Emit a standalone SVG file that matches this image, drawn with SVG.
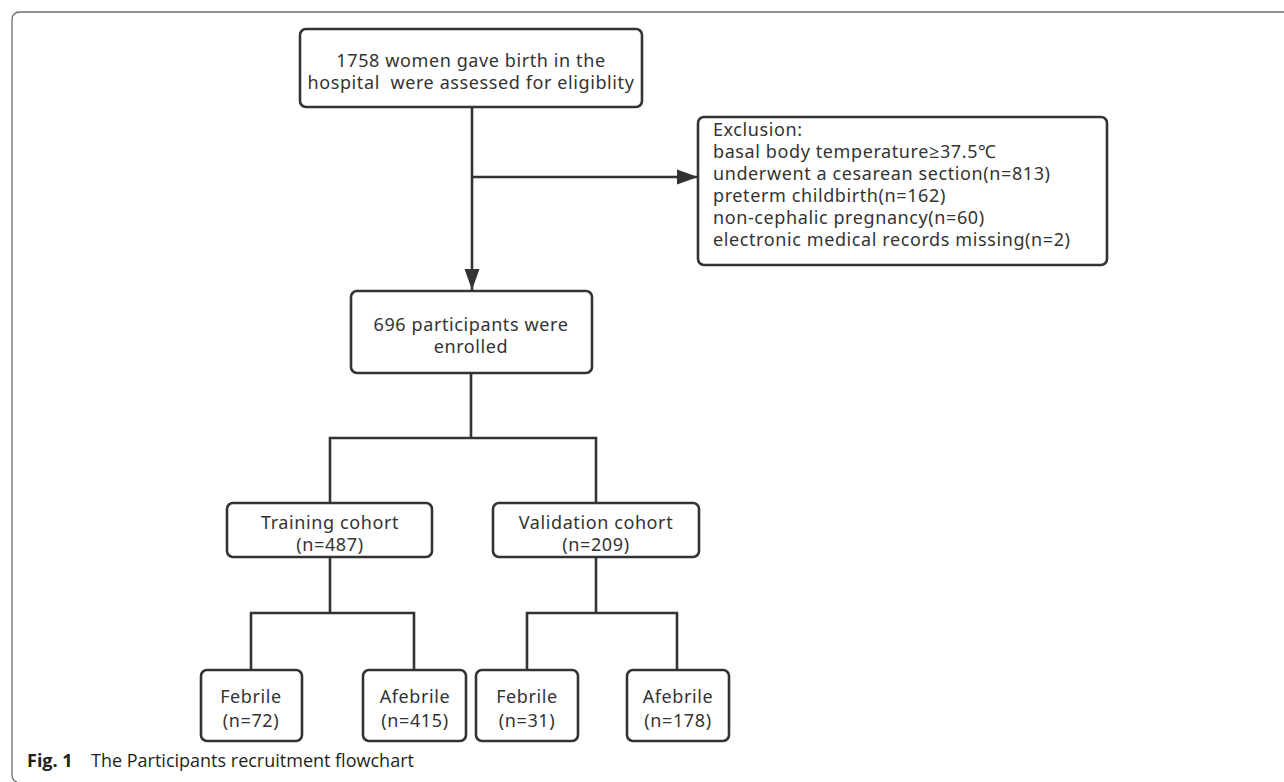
<svg xmlns="http://www.w3.org/2000/svg" width="1284" height="782" viewBox="0 0 1284 782">
<style>
.box{fill:#fff;stroke:#333;stroke-width:2.6}
.ln{fill:none;stroke:#333;stroke-width:2.6}
.t{font-family:"Noto Sans","Open Sans",sans-serif;font-size:18px;letter-spacing:0.6px;fill:#333;text-anchor:middle}
.tl{font-family:"Noto Sans","Open Sans",sans-serif;font-size:18px;letter-spacing:0.6px;fill:#333}
.cap{font-family:"Open Sans","Noto Sans",sans-serif;font-size:18px;fill:#231f20}
</style>
<defs>
<marker id="arrd" markerWidth="21" markerHeight="16" refX="21" refY="8" orient="auto" markerUnits="userSpaceOnUse">
<path d="M0,0.5 L21,8 L0,15.5 Z" fill="#333"/>
</marker>
</defs>
<path d="M1284 12 H20 Q12 12 12 20 V774 Q12 781 17 782" fill="none" stroke="#6e6e6e" stroke-width="1.3"/>
<g id="connectors">
<path class="ln" d="M472 107 V290" marker-end="url(#arrd)"/>
<path class="ln" d="M472 177 H698" marker-end="url(#arrd)"/>
<path class="ln" d="M471 373 V438 M330 503 V438 H596 V503"/>
<path class="ln" d="M330 557 V613 M251 670 V613 H414 V670"/>
<path class="ln" d="M596 557 V613 M527 670 V613 H677 V670"/>
</g>
<g id="n1"><rect class="box" x="300" y="29" width="342" height="78" rx="6"/>
<text class="t" x="471" y="67">1758 women gave birth in the</text>
<text class="t" x="471" y="89">hospital&#160; were assessed for eligiblity</text></g>
<g id="n2"><rect class="box" x="698" y="117" width="409" height="148" rx="6"/>
<text class="tl" x="713" y="136">Exclusion:</text>
<text class="tl" x="713" y="158">basal body temperature≥37.5℃</text>
<text class="tl" x="713" y="180">underwent a cesarean section(n=813)</text>
<text class="tl" x="713" y="202">preterm childbirth(n=162)</text>
<text class="tl" x="713" y="224">non-cephalic pregnancy(n=60)</text>
<text class="tl" x="713" y="246">electronic medical records missing(n=2)</text></g>
<g id="n3"><rect class="box" x="351" y="291" width="241" height="82" rx="6"/>
<text class="t" x="471" y="331">696 participants were</text>
<text class="t" x="471" y="353">enrolled</text></g>
<g id="n4"><rect class="box" x="227" y="503" width="205" height="54" rx="6"/>
<text class="t" x="330" y="529">Training cohort</text>
<text class="t" x="330" y="551">(n=487)</text></g>
<g id="n5"><rect class="box" x="493" y="503" width="206" height="54" rx="6"/>
<text class="t" x="596" y="529">Validation cohort</text>
<text class="t" x="596" y="551">(n=209)</text></g>
<g id="n6"><rect class="box" x="201" y="670" width="101" height="71" rx="6"/>
<text class="t" x="251" y="703">Febrile</text>
<text class="t" x="251" y="727">(n=72)</text></g>
<g id="n7"><rect class="box" x="363" y="670" width="103" height="71" rx="6"/>
<text class="t" x="415" y="703">Afebrile</text>
<text class="t" x="415" y="727">(n=415)</text></g>
<g id="n8"><rect class="box" x="476" y="670" width="102" height="71" rx="6"/>
<text class="t" x="527" y="703">Febrile</text>
<text class="t" x="527" y="727">(n=31)</text></g>
<g id="n9"><rect class="box" x="627" y="670" width="102" height="71" rx="6"/>
<text class="t" x="678" y="703">Afebrile</text>
<text class="t" x="678" y="727">(n=178)</text></g>
<text class="cap" x="27" y="767"><tspan font-weight="bold">Fig. 1</tspan><tspan x="91">The Participants recruitment flowchart</tspan></text>
</svg>
